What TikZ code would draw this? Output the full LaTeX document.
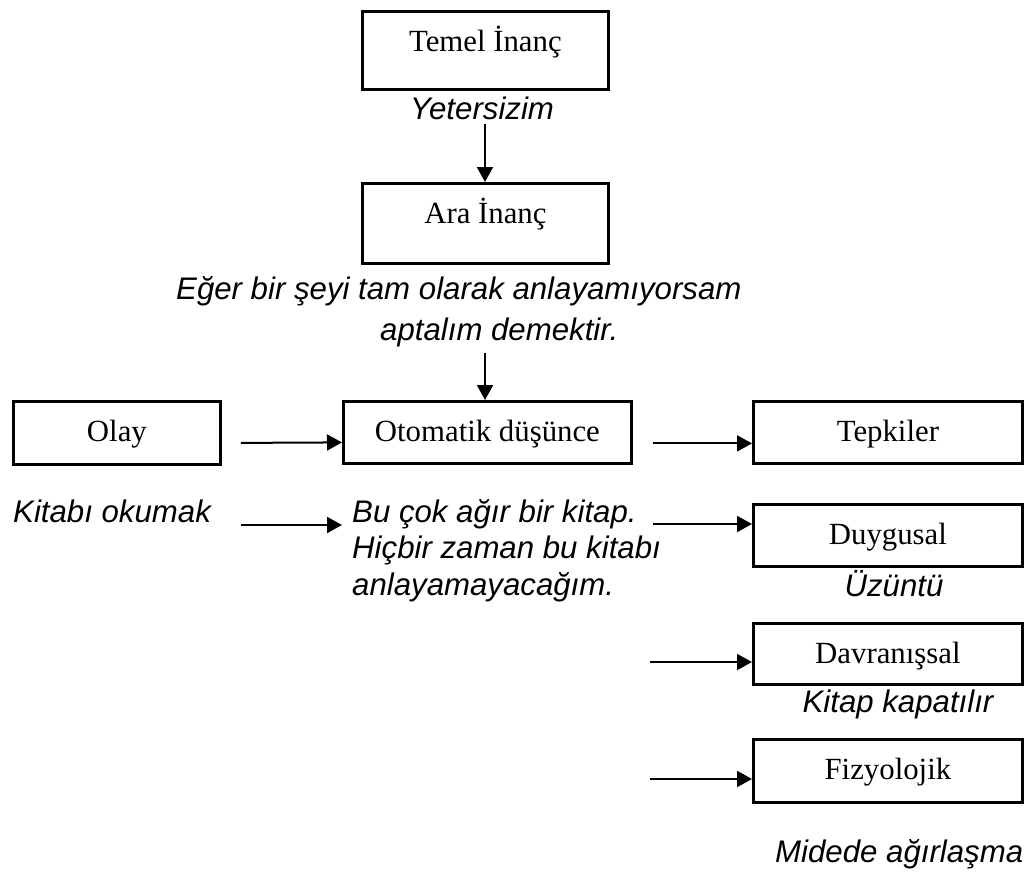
\documentclass[tikz,border=0pt]{standalone}
\usepackage{fontspec}
\setmainfont{Liberation Serif}
\setsansfont{Liberation Sans}
\usetikzlibrary{arrows.meta,calc}
\begin{document}
\begin{tikzpicture}[x=1pt,y=-1pt,
  box/.style={draw=black,line width=2.8pt,inner sep=0pt,anchor=north west,
    font=\fontsize{30.8}{36}\selectfont,text height=40pt},
  lbl/.style={inner sep=0pt,font=\sffamily\itshape\fontsize{31.2}{36.5}\selectfont},
  arr/.style={line width=2pt,-{Triangle[length=15pt,width=16pt]}}]
\useasboundingbox (0,0) rectangle (1029,876);
% boxes
\node[box,minimum width=246pt,text depth=38pt] (temel) at (361,10) {Temel İnanç};
\node[box,minimum width=246pt,text depth=40pt] (ara) at (361,182) {Ara İnanç};
\node[box,minimum width=207pt,text depth=23pt] (olay) at (12,400) {Olay};
\node[box,minimum width=288pt,text depth=22pt] (oto) at (342,400) {Otomatik düşünce};
\node[box,minimum width=269pt,text depth=22pt] (tep) at (752,400) {Tepkiler};
\node[box,minimum width=269pt,text depth=22pt] (duy) at (752,503) {Duygusal};
\node[box,minimum width=269pt,text depth=21pt] (dav) at (752,622) {Davranışsal};
\node[box,minimum width=269pt,text depth=23pt] (fiz) at (752,738) {Fizyolojik};
% labels
\node[lbl,anchor=base] (yet) at (482,119) {Yetersizim};
\node[lbl,anchor=base west] (egr1) at (176,299) {Eğer bir şeyi tam olarak anlayamıyorsam};
\node[lbl,anchor=base west] (egr2) at (380,340) {aptalım demektir.};
\node[lbl,anchor=base west] (kit) at (13,522) {Kitabı okumak};
\node[lbl,anchor=base west] (bu1) at (352,522) {Bu çok ağır bir kitap.};
\node[lbl,anchor=base west] (bu2) at (352,558) {Hiçbir zaman bu kitabı};
\node[lbl,anchor=base west] (bu3) at (352,595) {anlayamayacağım.};
\node[lbl,anchor=base] (uzu) at (894,596) {Üzüntü};
\node[lbl,anchor=base] (kap) at (898,712) {Kitap kapatılır};
\node[lbl,anchor=base west] (mid) at (775,862) {Midede ağırlaşma};
% free starts
\coordinate (s1) at (650,662);
\coordinate (s2) at (650,779);
% arrows
\draw[arr] (yet.south -| 485,0) ++(0,4) -- (ara.north -| 485,0);
\draw[arr] (egr2.south -| 485,0) ++(0,6) -- (oto.north -| 485,0);
\draw[arr] ([shift={(19,10)}]olay.east) -- ([shift={(0,10)}]oto.west);
\draw[arr] ([shift={(20,11)}]oto.east) -- ([shift={(0,11)}]tep.west);
\draw[arr] ([shift={(19,0)}]olay.east |- 0,525) -- (oto.west |- 0,525);
\draw[arr] ([shift={(20,0)}]oto.east |- 0,524) -- (duy.west |- 0,524);
\draw[arr] (s1) -- (dav.west |- s1);
\draw[arr] (s2) -- (fiz.west |- s2);
\end{tikzpicture}
\end{document}
